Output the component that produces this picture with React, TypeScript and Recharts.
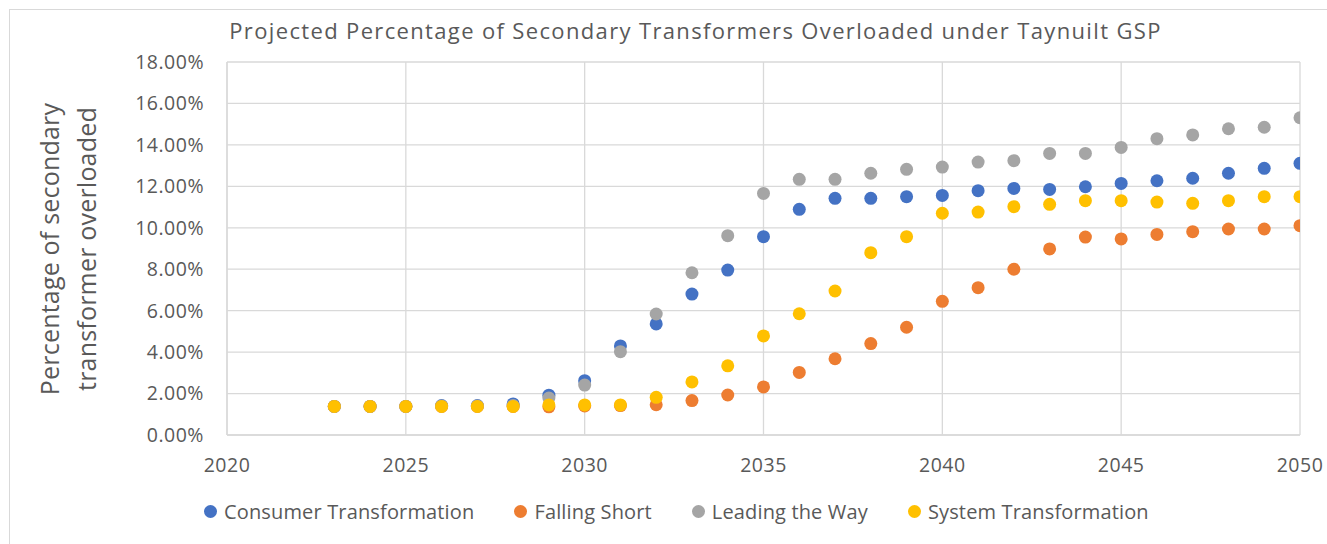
import { ScatterChart, Scatter, XAxis, YAxis, CartesianGrid, Legend } from 'recharts'

const YEARS = [2023, 2024, 2025, 2026, 2027, 2028, 2029, 2030, 2031, 2032, 2033, 2034, 2035, 2036, 2037, 2038, 2039, 2040, 2041, 2042, 2043, 2044, 2045, 2046, 2047, 2048, 2049, 2050]

// percentages
const CONSUMER = [1.38, 1.38, 1.38, 1.42, 1.42, 1.5, 1.92, 2.62, 4.3, 5.36, 6.8, 7.96, 9.57, 10.89, 11.42, 11.42, 11.5, 11.56, 11.79, 11.9, 11.85, 11.98, 12.14, 12.27, 12.39, 12.63, 12.87, 13.11]
const FALLING = [1.38, 1.38, 1.38, 1.38, 1.38, 1.38, 1.36, 1.4, 1.42, 1.46, 1.66, 1.93, 2.32, 3.02, 3.68, 4.41, 5.2, 6.45, 7.11, 8.0, 8.98, 9.55, 9.46, 9.68, 9.81, 9.94, 9.94, 10.1]
const LEADING = [1.38, 1.38, 1.38, 1.4, 1.4, 1.42, 1.78, 2.41, 4.02, 5.84, 7.83, 9.62, 11.66, 12.34, 12.34, 12.63, 12.82, 12.93, 13.17, 13.24, 13.59, 13.59, 13.88, 14.3, 14.48, 14.78, 14.85, 15.31]
const SYSTEM = [1.38, 1.38, 1.38, 1.38, 1.38, 1.38, 1.45, 1.45, 1.45, 1.82, 2.56, 3.34, 4.78, 5.85, 6.95, 8.8, 9.57, 10.7, 10.76, 11.02, 11.13, 11.31, 11.31, 11.24, 11.18, 11.31, 11.5, 11.5]

const X_TICKS = [2020, 2025, 2030, 2035, 2040, 2045, 2050]
const Y_TICKS = [0, 2, 4, 6, 8, 10, 12, 14, 16, 18]

const SERIES = [
  { name: 'Consumer Transformation', color: '#4472C4', values: CONSUMER },
  { name: 'Falling Short', color: '#ED7D31', values: FALLING },
  { name: 'Leading the Way', color: '#A5A5A5', values: LEADING },
  { name: 'System Transformation', color: '#FFC000', values: SYSTEM },
]

const FONT = '"Open Sans", sans-serif'
const TEXT = '#595959'
const GRID = '#d9d9d9'

const Dot = (props: any) => <circle cx={props.cx} cy={props.cy} r={6.5} fill={props.fill} />

function LegendRow() {
  return (
    <div style={{ display: 'flex', alignItems: 'center', gap: 40, fontFamily: FONT, fontSize: 20, letterSpacing: 0.15, color: TEXT, whiteSpace: 'nowrap' }}>
      {SERIES.map(s => (
        <div key={s.name} style={{ display: 'flex', alignItems: 'center' }}>
          <span style={{ width: 13, height: 13, borderRadius: '50%', background: s.color, marginRight: 7, display: 'inline-block' }} />
          {s.name}
        </div>
      ))}
    </div>
  )
}

export default function App() {
  const tick = { fill: TEXT, fontSize: 19.5, fontFamily: FONT, letterSpacing: 0.5 }
  return (
    <div style={{ position: 'absolute', top: 0, left: 0, width: 1327, height: 544, background: '#fff', overflow: 'hidden' }}>
      <div style={{ position: 'absolute', left: 9, top: 9, width: 1400, height: 600, borderLeft: `1px solid ${GRID}`, borderTop: `1px solid ${GRID}` }} />
      <div style={{ position: 'absolute', left: 0, width: 1391, top: 15, textAlign: 'center', fontFamily: FONT, fontSize: 22, letterSpacing: 1.35, color: TEXT, whiteSpace: 'nowrap' }}>
        Projected Percentage of Secondary Transformers Overloaded under Taynuilt GSP
      </div>
      <div style={{ position: 'absolute', left: 68, top: 249, width: 0, height: 0 }}>
        <div style={{ position: 'absolute', transform: 'translate(-50%, -50%) rotate(-90deg)', fontFamily: FONT, fontSize: 25, letterSpacing: 0.2, color: TEXT, lineHeight: '37px', textAlign: 'center', whiteSpace: 'nowrap' }}>
          Percentage of secondary<br />transformer overloaded
        </div>
      </div>
      <div style={{ position: 'absolute', left: 0, top: 0 }}>
        <ScatterChart width={1327} height={544} margin={{ top: 62, right: 27, bottom: 0, left: 0 }}>
          <CartesianGrid stroke={GRID} strokeWidth={1.3} />
          <XAxis
            type="number" dataKey="year" domain={[2020, 2050]} ticks={X_TICKS} allowDataOverflow
            height={109} tickLine={false} tickSize={0} tickMargin={23}
            axisLine={{ stroke: GRID, strokeWidth: 1.3 }}
            tick={tick}
          />
          <YAxis
            type="number" dataKey="pct" domain={[0, 18]} ticks={Y_TICKS} allowDataOverflow
            width={227} tickLine={false} tickSize={0} tickMargin={23}
            axisLine={{ stroke: GRID, strokeWidth: 1.3 }}
            tick={tick}
            tickFormatter={(v: number) => `${v.toFixed(2)}%`}
          />
          <Legend
            verticalAlign="middle" align="center" layout="horizontal"
            wrapperStyle={{ top: 498, left: 204, width: 'auto' }}
            content={() => <LegendRow />}
          />
          {SERIES.map(s => (
            <Scatter
              key={s.name}
              name={s.name}
              data={YEARS.map((year, i) => ({ year, pct: s.values[i] }))}
              fill={s.color}
              shape={Dot}
              isAnimationActive={false}
            />
          ))}
        </ScatterChart>
      </div>
    </div>
  )
}
